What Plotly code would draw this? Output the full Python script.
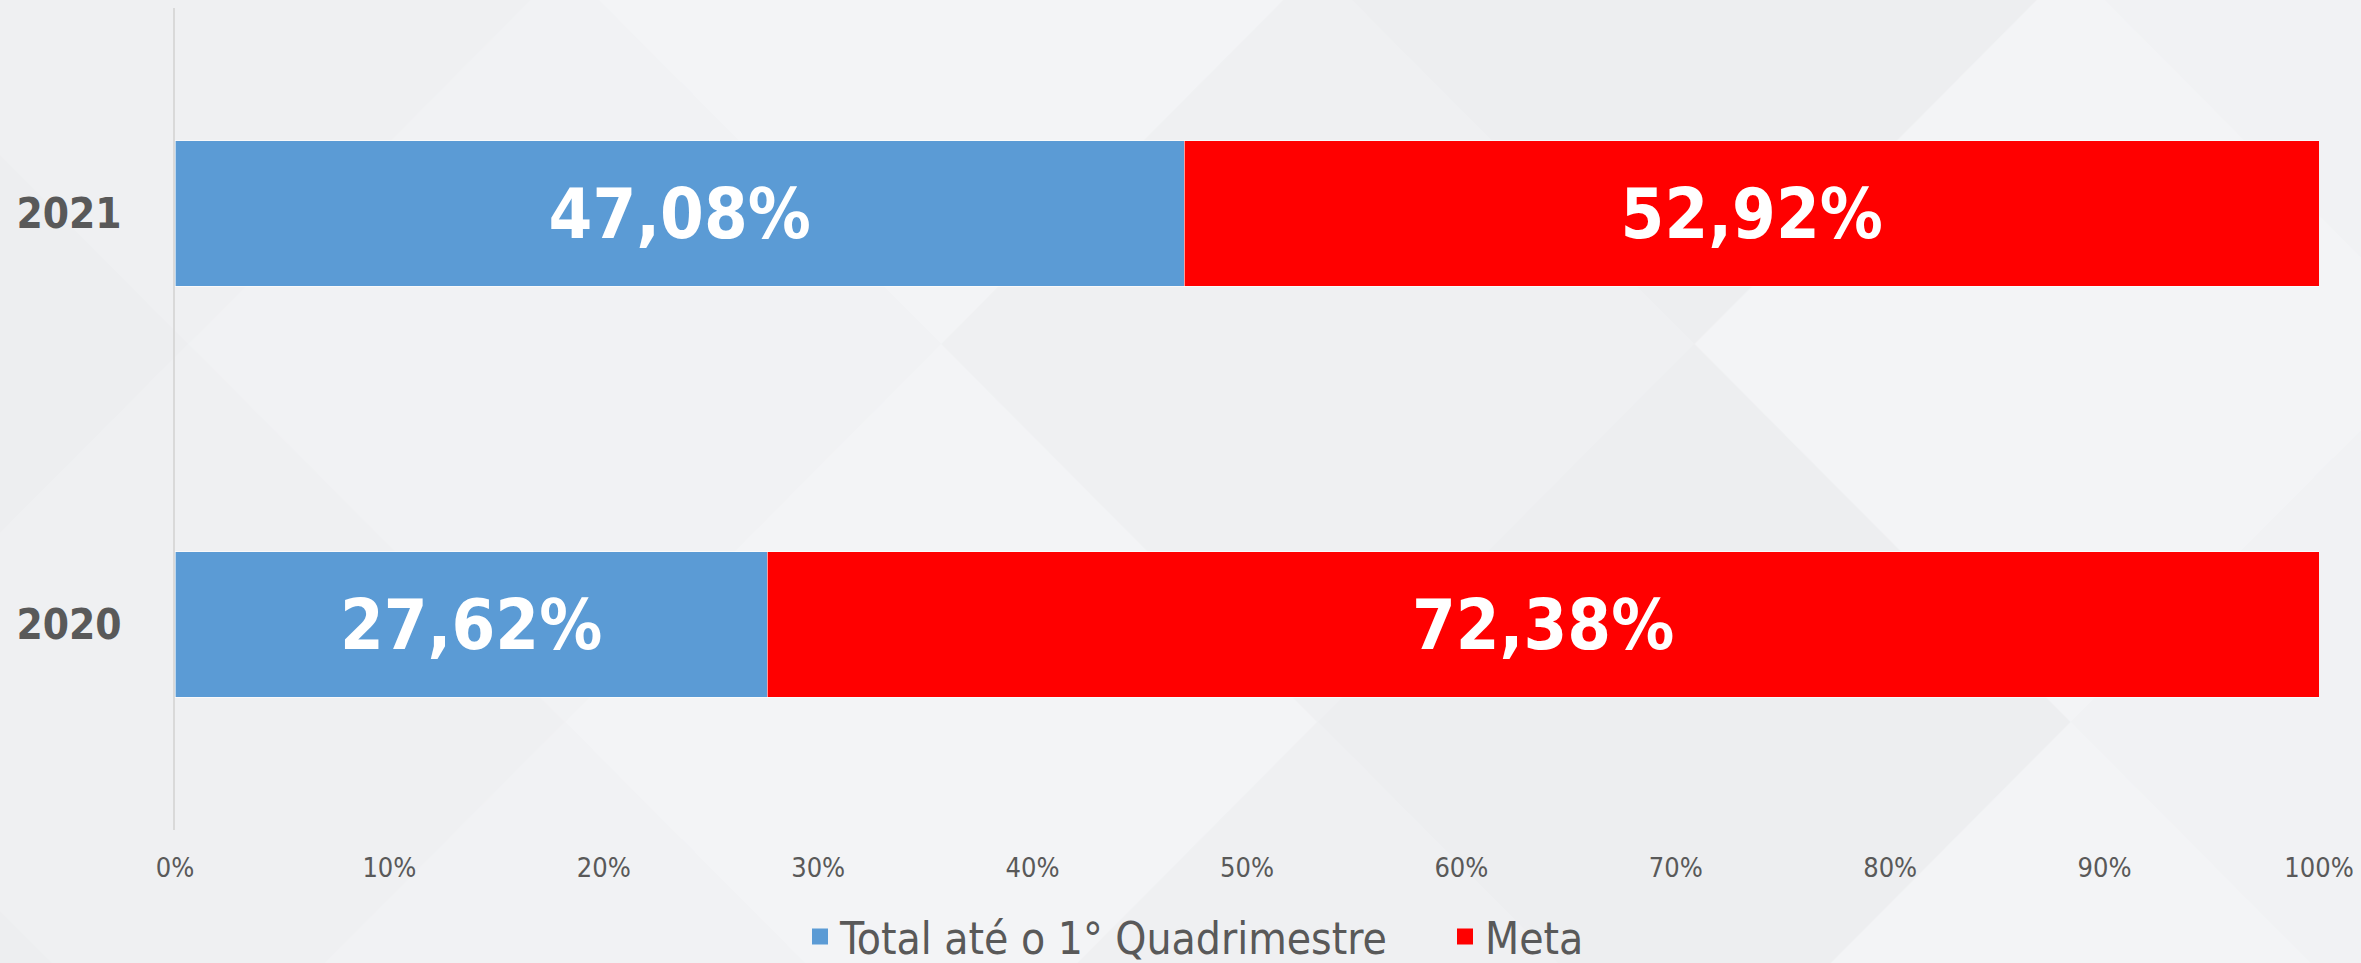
import plotly.graph_objects as go

years = ["2020", "2021"]
total_1q = [27.62, 47.08]
meta = [72.38, 52.92]
series_names = ["Total até o 1° Quadrimestre", "Meta"]
series_colors = ["#5B9BD5", "#FF0000"]
x_ticks = list(range(0, 101, 10))
x_ticklabels = [f"{v}%" for v in x_ticks]

FONT = "Liberation Sans Narrow, DejaVu Sans Condensed, Open Sans, sans-serif"
GREY = "#595959"

W, H = 2361, 963
ML, MR, MT, MB = 175, 42, 8, 133
PW, PH = W - ML - MR, H - MT - MB


def px(x, y):
    """convert page pixel to plot-paper fraction (decoration only)"""
    return (x - ML) / PW, (H - MB - y) / PH


fig = go.Figure()
for name, vals, col in zip(series_names, [total_1q, meta], series_colors):
    fig.add_trace(go.Bar(
        y=years, x=vals, name=name, orientation="h", showlegend=False,
        marker=dict(color=col, line=dict(color="rgba(255,255,255,0.6)", width=1)),
        texttemplate="%{x:.2f}%", textposition="inside", insidetextanchor="middle",
        textfont=dict(family=FONT, size=70, color="white", weight="bold"),
        constraintext="none", hoverinfo="skip",
    ))
    # legend entry with a larger square swatch
    fig.add_trace(go.Scatter(
        x=[None], y=[None], mode="markers", name=name,
        marker=dict(symbol="square", size=26, color=col), hoverinfo="skip",
    ))

# subtle decorative diamond lattice in the background
HW, HH = 376, 378
diamonds = []
for row, cy in enumerate([-34, 344, 722, 1100]):
    off = 565 if row % 2 == 1 else 941
    for i in range(-2, 4):
        cx = off + 753 * i
        diamonds.append((cx, cy))
palette = ["#EDEEF0", "#F3F4F6", "#EFF0F2", "#F1F2F4"]
shapes = []
for k, (cx, cy) in enumerate(diamonds):
    pts = [px(cx - HW, cy), px(cx, cy - HH), px(cx + HW, cy), px(cx, cy + HH)]
    path = "M " + " L ".join(f"{a:.4f} {b:.4f}" for a, b in pts) + " Z"
    col = palette[(k * 3 + (cy // 100)) % len(palette)]
    shapes.append(dict(type="path", path=path, xref="paper", yref="paper", fillcolor=col,
                       line=dict(width=0), layer="below"))

fig.update_layout(
    width=W, height=H,
    barmode="stack", bargap=0.645,
    separators=",.",
    paper_bgcolor="#F0F1F3", plot_bgcolor="rgba(0,0,0,0)",
    margin=dict(l=ML, r=MR, t=MT, b=MB, autoexpand=False),
    font=dict(family=FONT, color=GREY),
    uniformtext=dict(minsize=10, mode="show"),
    legend=dict(orientation="h", x=px(800, 0)[0], xanchor="left", y=px(0, 937)[1], yanchor="middle",
                font=dict(family=FONT, size=44, color=GREY), bgcolor="rgba(0,0,0,0)",
                itemwidth=30, traceorder="normal", entrywidth=600, entrywidthmode="pixels"),
    xaxis=dict(range=[0, 100], tickvals=x_ticks, ticktext=x_ticklabels, showgrid=False,
               zeroline=False, showline=False, ticks="", ticklabelstandoff=19, automargin=False,
               tickfont=dict(family=FONT, size=27, color=GREY), fixedrange=True),
    yaxis=dict(showgrid=False, zeroline=False, showline=True, linecolor="#D9D9D9", linewidth=2,
               ticks="", ticklabelstandoff=43, automargin=False,
               tickfont=dict(family=FONT, size=42, color=GREY, weight="bold"), fixedrange=True),
    shapes=shapes,
)
fig.write_html("out.html", config={"displayModeBar": False},
               post_script="document.body.style.margin='0';")
